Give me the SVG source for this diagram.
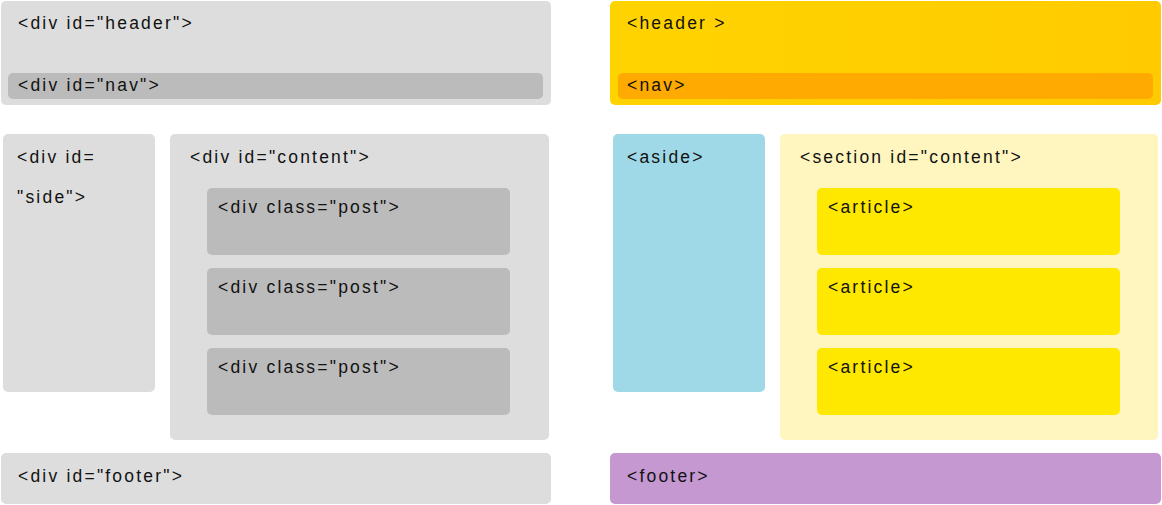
<svg xmlns="http://www.w3.org/2000/svg" width="1162" height="505" viewBox="0 0 1162 505">
<style>
text{font-family:"Liberation Sans",Arial,sans-serif;font-size:17.5px;letter-spacing:2.2px;fill:#111111}
.g1{fill:#dddddd}
.g2{fill:#bbbbbb}
.nav5{fill:#ffaa00}
.aside{fill:#9fd9e7}
.sec{fill:#fff5bf}
.art{fill:#ffe800}
.foot{fill:#c598d2}
</style>
<defs>
<linearGradient id="hg" x1="0" y1="0" x2="1" y2="0">
<stop offset="0" stop-color="#ffd300"/>
<stop offset="1" stop-color="#ffcb00"/>
</linearGradient>
</defs>
<rect width="1162" height="505" fill="#ffffff"/>
<g id="div-header"><rect class="g1" x="1" y="1" width="550" height="104" rx="5"/><text x="18" y="29">&lt;div id="header"&gt;</text></g>
<g id="div-nav"><rect class="g2" x="8" y="73" width="535" height="26" rx="5"/><text x="18" y="91">&lt;div id="nav"&gt;</text></g>
<g id="div-side"><rect class="g1" x="3" y="134" width="152" height="258" rx="5"/><text x="17" y="163">&lt;div id=</text><text x="17" y="203">"side"&gt;</text></g>
<g id="div-content"><rect class="g1" x="170" y="134" width="379" height="306" rx="5"/><text x="190" y="163">&lt;div id="content"&gt;</text></g>
<g id="div-post1"><rect class="g2" x="207" y="188" width="303" height="67" rx="5"/><text x="218" y="213">&lt;div class="post"&gt;</text></g>
<g id="div-post2"><rect class="g2" x="207" y="268" width="303" height="67" rx="5"/><text x="218" y="293">&lt;div class="post"&gt;</text></g>
<g id="div-post3"><rect class="g2" x="207" y="348" width="303" height="67" rx="5"/><text x="218" y="373">&lt;div class="post"&gt;</text></g>
<g id="div-footer"><rect class="g1" x="1" y="453" width="550" height="51" rx="5"/><text x="18" y="482">&lt;div id="footer"&gt;</text></g>
<g id="header5"><rect fill="url(#hg)" x="610" y="1" width="551" height="104" rx="5"/><text x="627" y="29">&lt;header &gt;</text></g>
<g id="nav5"><rect class="nav5" x="618" y="73" width="535" height="26" rx="5"/><text x="627" y="91">&lt;nav&gt;</text></g>
<g id="aside5"><rect class="aside" x="613" y="134" width="152" height="258" rx="5"/><text x="627" y="163">&lt;aside&gt;</text></g>
<g id="section5"><rect class="sec" x="780" y="134" width="378" height="306" rx="5"/><text x="800" y="163">&lt;section id="content"&gt;</text></g>
<g id="article1"><rect class="art" x="817" y="188" width="303" height="67" rx="5"/><text x="828" y="213">&lt;article&gt;</text></g>
<g id="article2"><rect class="art" x="817" y="268" width="303" height="67" rx="5"/><text x="828" y="293">&lt;article&gt;</text></g>
<g id="article3"><rect class="art" x="817" y="348" width="303" height="67" rx="5"/><text x="828" y="373">&lt;article&gt;</text></g>
<g id="footer5"><rect class="foot" x="610" y="453" width="551" height="51" rx="5"/><text x="627" y="482">&lt;footer&gt;</text></g>
<g id="connectors"/>
</svg>
